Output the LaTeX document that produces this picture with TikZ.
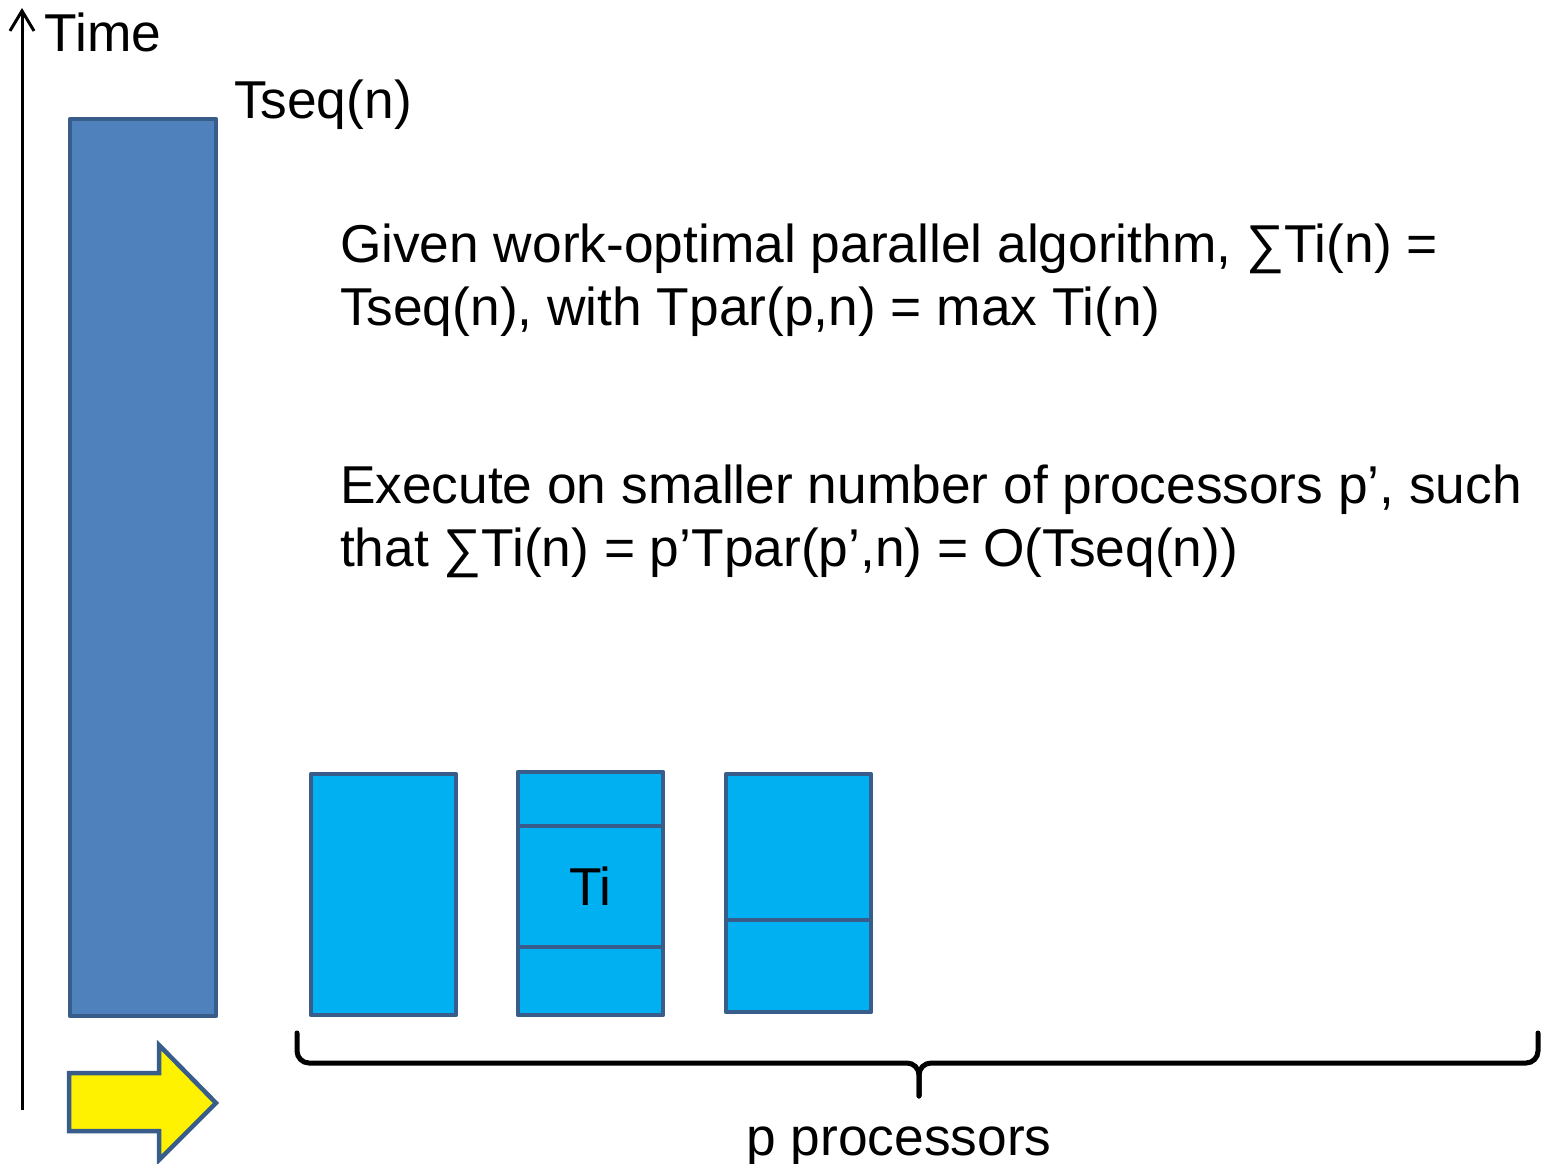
\documentclass[tikz,border=0pt]{standalone}
\usepackage{fontspec}
\setmainfont{Liberation Sans}
\usetikzlibrary{arrows.meta}
\definecolor{bluebar}{HTML}{4F81BD}
\definecolor{edgeblue}{HTML}{385D8A}
\definecolor{cyanbox}{HTML}{00B0F0}
\tikzset{
  barbox/.style={draw=edgeblue, fill=bluebar, line width=4.5pt, line join=round, inner sep=0pt, outer sep=0pt, anchor=north west},
  procbox/.style={draw=edgeblue, fill=cyanbox, line width=4.5pt, line join=round, inner sep=0pt, outer sep=0pt, anchor=north west, minimum width=145pt},
  bigtext/.style={font=\fontsize{53.3}{63}\selectfont, inner sep=0pt, outer sep=0pt},
  axisline/.style={line width=3pt, -{Straight Barb[length=20pt,width=24pt,line width=3pt]}},
  bracestyle/.style={line width=5pt, rounded corners=12pt, line cap=round},
  arrowshape/.style={draw=edgeblue, fill=yellow, line width=4.5pt, line join=miter}
}
\begin{document}
\begin{tikzpicture}[x=1pt,y=-1pt]
\useasboundingbox[fill=white] (0,0) rectangle (1543,1164);

% time axis
\coordinate (axisbot) at (22,1110);
\coordinate (axistop) at (22,8);
\draw[axisline] (axisbot) -- (axistop);
\node[bigtext, anchor=base west] (time) at (45,52) {Time};

% sequential bar
\node[barbox, minimum width=146pt, minimum height=897pt] (seq) at (70,119) {};
\node[bigtext, anchor=base west] (tseq) at (234,118) {Tseq(n)};

% text blocks (base anchor = baseline of last line)
\node[bigtext, anchor=base west, align=left] (txta) at (340,325)
  {Given work-optimal parallel algorithm, ∑Ti(n) =\\Tseq(n), with Tpar(p,n) = max Ti(n)};
\node[bigtext, anchor=base west, align=left] (txtb) at (340,566)
  {Execute on smaller number of processors p’, such\\that ∑Ti(n) = p’Tpar(p’,n) = O(Tseq(n))};

% processor boxes
\node[procbox, minimum height=241pt] (boxa) at (311,774) {};
\node[procbox, minimum height=54pt] (boxba) at (518,772) {};
\node[procbox, minimum height=121pt] (boxbb) at (518,826) {};
\node[procbox, minimum height=68pt] (boxbc) at (518,947) {};
\node[bigtext] (ti) at (boxbb.center) {Ti};
\node[procbox, minimum height=146pt] (boxca) at (726,774) {};
\node[procbox, minimum height=92pt] (boxcb) at (726,920) {};

% yellow arrow
\draw[arrowshape] (69,1073) -- (159,1073) -- (159,1045) -- (216,1103) -- (159,1160) -- (159,1131) -- (69,1131) -- cycle;

% brace
\coordinate (brl) at (297,1033);
\coordinate (brr) at (1538,1033);
\coordinate (brmid) at (919,1063);
\coordinate (brtip) at (919,1096);
\draw[bracestyle] (brl) |- (brmid) -- (brtip);
\draw[bracestyle] (brr) |- (brmid) -- (brtip);
\node[bigtext, anchor=base] (pproc) at (899,1155) {p processors};
\end{tikzpicture}
\end{document}
